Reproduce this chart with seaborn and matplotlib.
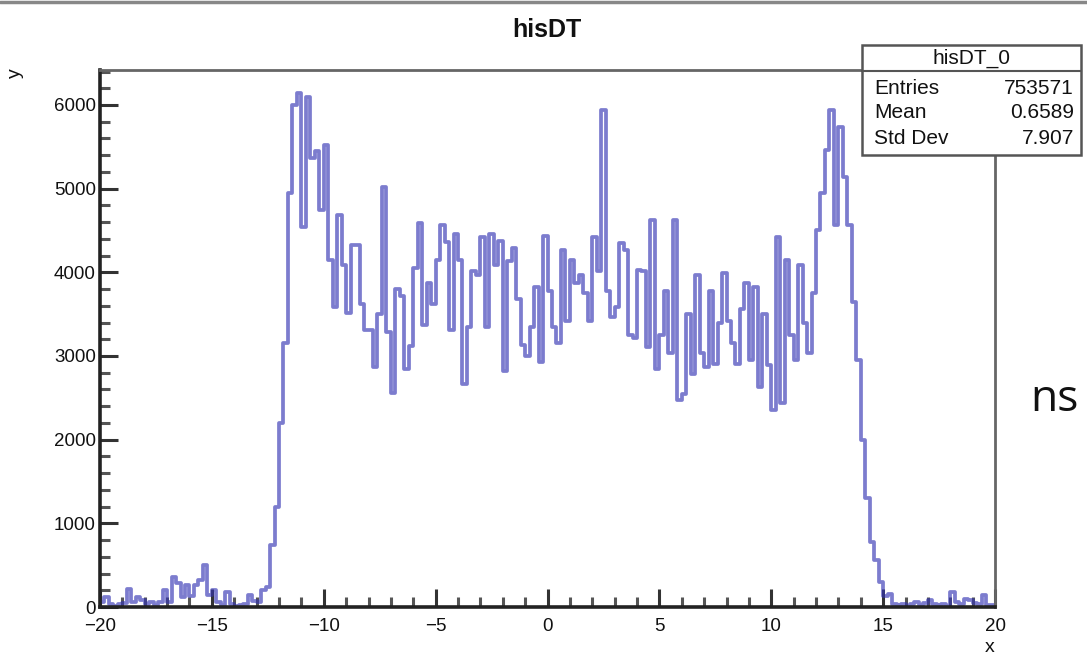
import numpy as np
import pandas as pd
import seaborn as sns
import matplotlib.pyplot as plt
from matplotlib.patches import Rectangle
from matplotlib.ticker import MultipleLocator

# ---- data (bin contents, 200 bins of width 0.2 from -20 to 20) ----
x_min, x_max, n_bins = -20.0, 20.0, 200
counts_left_tail = [60, 120, 30, 10, 40, 50, 220, 60, 120, 80, 40, 60, 20, 60, 200, 60,
                    360, 290, 120, 260, 130, 260, 320, 500, 140, 200, 60, 20, 180, 30,
                    10, 20, 40, 140, 70, 60, 200, 240]
counts_left_plateau = [740, 1200, 2200, 3150, 4950, 6000, 6140, 4540, 6100, 5370,
                       5450, 4740, 5520, 4150, 3590, 4690, 4090, 3510, 4330, 4330,
                       3620, 3310, 3310, 2870, 3500, 5020, 3290, 2560, 3800, 3720,
                       2850, 3120, 4050, 4590, 3370, 3870, 3620, 4150, 4570, 4360,
                       3310, 4460, 4150, 2660, 3350, 4010, 3970, 4420, 3350, 4460,
                       4090, 4380, 2820, 4130, 4290, 3680, 3130, 3000, 3350, 3820,
                       2930, 4430]
counts_right_plateau = [3780, 3350, 3150, 4270, 3420, 4150, 3870, 3970, 3750, 3420,
                        4425, 4020, 5940, 3780, 3460, 3580, 4345, 4270, 3250, 3210,
                        4030, 4010, 3110, 4625, 2850, 3250, 3780, 3030, 4625, 2470,
                        2550, 3500, 2790, 3970, 3030, 2870, 3780, 2910, 3390, 3990,
                        3420, 3150, 2910, 3560, 3870, 2950, 3830, 2630, 3500, 2890,
                        2350, 4425, 2440, 4150, 3250, 2950, 4090, 3390, 3030, 3750,
                        4505, 4945, 5460, 5940, 4560, 5740, 5140, 4560]
counts_right_tail = [3650, 2950, 2000, 1300, 780, 560, 300, 130, 160, 40, 20, 30, 10,
                     40, 60, 20, 50, 80, 30, 20, 40, 10, 180, 60, 30, 90, 80, 50, 30,
                     140, 20, 20]

stat_labels = ["Entries", "Mean", "Std Dev"]
stat_values = ["753571", "0.6589", "7.907"]
hist_name = "hisDT_0"
title_text = "hisDT"

counts = np.array(counts_left_tail + counts_left_plateau + counts_right_plateau + counts_right_tail, float)
bin_w = (x_max - x_min) / n_bins
centers = x_min + bin_w * (np.arange(n_bins) + 0.5)
df = pd.DataFrame({"x": centers, "w": counts})

# ---- figure ----
sns.set_theme(style="white")
plt.rcParams["font.family"] = ["Liberation Sans", "DejaVu Sans"]
W, H = 1087, 657
fig = plt.figure(figsize=(W / 100, H / 100), dpi=100)
ax = fig.add_axes([100 / W, 1 - 607 / H, (995 - 100) / W, (607 - 70) / H])

sns.histplot(data=df, x="x", weights="w", binwidth=bin_w, binrange=(x_min, x_max),
             element="step", fill=False, color="#3333b3", alpha=0.64, linewidth=2.7, ax=ax)

ax.set_xlim(x_min, x_max)
ax.set_ylim(0, 6418)
ax.set_xlabel("")
ax.set_ylabel("")

ax.xaxis.set_major_locator(MultipleLocator(5))
ax.xaxis.set_minor_locator(MultipleLocator(1))
ax.yaxis.set_major_locator(MultipleLocator(1000))
ax.yaxis.set_minor_locator(MultipleLocator(200))
ax.tick_params(which="major", direction="in", length=13, width=2.2, color="#333333",
               labelsize=13.5, labelcolor="#111111")
ax.tick_params(which="minor", direction="in", length=7, width=2.2, color="#555555")
ax.tick_params(axis="x", which="both", bottom=True, top=False, pad=8)
ax.tick_params(axis="y", which="both", left=True, right=False, pad=3)
xt = np.arange(-20, 21, 5)
ax.set_xticks(xt)
ax.set_xticklabels([f"{int(v)}".replace("-", "\u2212") for v in xt])

for side in ["left", "bottom"]:
    ax.spines[side].set_color("#222222")
    ax.spines[side].set_linewidth(2.6)
for side in ["top", "right"]:
    ax.spines[side].set_color("#666666")
    ax.spines[side].set_linewidth(2.0)

# titles and axis labels
fig.text(547 / W, 1 - 30 / H, title_text, ha="center", va="center", fontsize=18,
         fontweight="bold", color="#111111")
fig.text(15 / W, 1 - 73 / H, "y", ha="center", va="center", rotation=90, fontsize=14,
         color="#111111")
fig.text(990 / W, 1 - 647 / H, "x", ha="center", va="center", fontsize=14, color="#111111")
fig.text(1054 / W, 1 - 400 / H, "ns", ha="center", va="center", fontsize=32,
         family="Open Sans", color="#111111")

# top border line of the image
fig.add_artist(plt.Line2D([0, 1], [1 - 2 / H, 1 - 2 / H], transform=fig.transFigure,
                          color="#888888", linewidth=2.5))

# stats box
bx0, bx1, by0, by1 = 862, 1081, 45, 155
fig.add_artist(Rectangle((bx0 / W, 1 - by1 / H), (bx1 - bx0) / W, (by1 - by0) / H,
                         transform=fig.transFigure, facecolor="white", edgecolor="#555555",
                         linewidth=1.8, zorder=5))
fig.add_artist(plt.Line2D([bx0 / W, bx1 / W], [1 - 71 / H, 1 - 71 / H],
                          transform=fig.transFigure, color="#555555", linewidth=1.5, zorder=6))
fig.text((bx0 + bx1) / 2 / W, 1 - 58 / H, hist_name, ha="center", va="center",
         fontsize=15, color="#111111", zorder=7)
for i, (lab, val) in enumerate(zip(stat_labels, stat_values)):
    yy = 1 - (88 + i * 25) / H
    fig.text(874 / W, yy, lab, ha="left", va="center", fontsize=15, color="#111111", zorder=7)
    fig.text(1074 / W, yy, val, ha="right", va="center", fontsize=15, color="#111111", zorder=7)

fig.savefig("out.png", dpi=100, facecolor="white")
